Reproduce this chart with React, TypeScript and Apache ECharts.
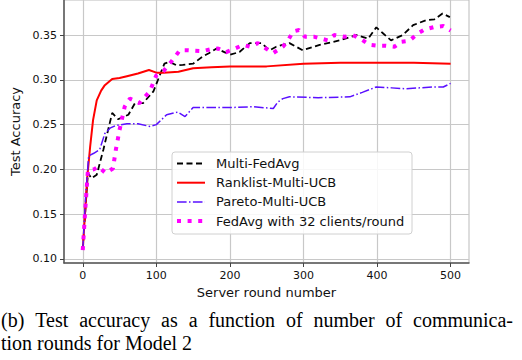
import React, { useEffect, useRef } from "react";
import * as echarts from "echarts";

// ---- data ----
const seriesNames = [
  "Multi-FedAvg",
  "Ranklist-Multi-UCB",
  "Pareto-Multi-UCB",
  "FedAvg with 32 clients/round",
];

const multiFedAvgRounds = [0, 4, 7, 12, 19, 28, 40, 48, 62, 71, 82, 96, 111, 118, 128, 136, 150, 163, 172, 182, 200, 213, 227, 236, 243, 254, 263, 281, 299, 322, 349, 372, 388, 399, 408, 419, 435, 449, 467, 478, 489, 499];
const multiFedAvgAcc = [0.11, 0.16, 0.196, 0.19, 0.194, 0.222, 0.263, 0.256, 0.261, 0.274, 0.274, 0.287, 0.318, 0.32, 0.316, 0.3167, 0.318, 0.326, 0.33, 0.335, 0.328, 0.331, 0.341, 0.341, 0.341, 0.333, 0.337, 0.341, 0.333, 0.339, 0.344, 0.35, 0.346, 0.3586, 0.352, 0.344, 0.35, 0.361, 0.3667, 0.3675, 0.374, 0.37];

const ranklistRounds = [0, 3, 6, 10, 14, 19, 25, 30, 40, 50, 60, 75, 90, 100, 110, 130, 150, 175, 200, 250, 300, 350, 400, 450, 500];
const ranklistAcc = [0.11, 0.15, 0.19, 0.225, 0.255, 0.277, 0.288, 0.294, 0.301, 0.302, 0.304, 0.307, 0.311, 0.308, 0.308, 0.309, 0.313, 0.314, 0.315, 0.315, 0.318, 0.319, 0.319, 0.319, 0.318];

const paretoRounds = [0, 4, 8, 15, 23, 30, 37, 45, 60, 75, 91, 100, 114, 129, 139, 150, 175, 200, 231, 259, 265, 272, 281, 320, 363, 380, 399, 420, 440, 476, 490, 500];
const paretoAcc = [0.11, 0.17, 0.215, 0.218, 0.222, 0.24, 0.246, 0.249, 0.251, 0.251, 0.248, 0.25, 0.261, 0.264, 0.259, 0.269, 0.269, 0.269, 0.27, 0.268, 0.275, 0.279, 0.281, 0.28, 0.281, 0.286, 0.292, 0.291, 0.29, 0.292, 0.292, 0.296];

const fedAvg32Rounds = [0, 3, 7, 15, 21, 31, 41, 45, 50, 57, 64, 77, 91, 100, 110, 120, 132, 143, 152, 163, 173, 184, 195, 207, 218, 227, 238, 249, 259, 272, 279, 286, 294, 302, 315, 333, 342, 356, 367, 379, 390, 401, 412, 424, 433, 444, 456, 465, 478, 490, 500];
const fedAvg32Acc = [0.11, 0.15, 0.199, 0.2, 0.203, 0.196, 0.201, 0.222, 0.244, 0.27, 0.279, 0.274, 0.287, 0.305, 0.31, 0.32, 0.333, 0.333, 0.3325, 0.332, 0.334, 0.335, 0.331, 0.335, 0.339, 0.337, 0.341, 0.335, 0.33, 0.337, 0.344, 0.354, 0.3556, 0.348, 0.348, 0.344, 0.35, 0.348, 0.35, 0.345, 0.339, 0.338, 0.338, 0.337, 0.3425, 0.3437, 0.352, 0.3563, 0.359, 0.36, 0.355];

const xTicks = [0, 100, 200, 300, 400, 500];
const yTicks = [0.1, 0.15, 0.2, 0.25, 0.3, 0.35];

const captionLines = [
  "(b) Test accuracy as a function of number of communica-",
  "tion rounds for Model 2",
];

// styles (not data)
const seriesColors = ["#000000", "#ff0000", "#5a10ff", "#ff00ff"];
const seriesWidths = [1.8, 2, 1.5, 4];
const seriesDashes: (number[] | null)[] = [[6, 3.5], null, [9.6, 2.4, 1.5, 2.4], [4, 6.6]];

const zip = (xs: number[], ys: number[]) => xs.map((x, i) => [x, ys[i]]);

function justifiedWords(line: string, font: string, x0: number, x1: number) {
  const words = line.split(" ");
  const ctx = document.createElement("canvas").getContext("2d")!;
  ctx.font = font;
  const widths = words.map((w) => ctx.measureText(w).width);
  const total = widths.reduce((a, b) => a + b, 0);
  const gap = (x1 - x0 - total) / (words.length - 1);
  let x = x0;
  return words.map((w, i) => {
    const item = { text: w, x };
    x += widths[i] + gap;
    return item;
  });
}

export default function App() {
  const ref = useRef<HTMLDivElement>(null);
  useEffect(() => {
    if (!ref.current) return;
    const chart = echarts.init(ref.current, undefined, { renderer: "svg" });
    const font = "DejaVu Sans";
    const capFont = "20px 'Liberation Serif'";
    const seriesData = [
      zip(multiFedAvgRounds, multiFedAvgAcc),
      zip(ranklistRounds, ranklistAcc),
      zip(paretoRounds, paretoAcc),
      zip(fedAvg32Rounds, fedAvg32Acc),
    ];

    const legendTop = 152;
    const rowGap = 19.2;
    const legendElements: any[] = [
      {
        type: "rect",
        shape: { x: 172, y: legendTop, width: 240, height: 82, r: 3 },
        style: { fill: "rgba(255,255,255,0.85)", stroke: "#d0d0d0", lineWidth: 1 },
        z: 100,
      },
    ];
    seriesNames.forEach((n, i) => {
      const cy = legendTop + 11.5 + i * rowGap;
      legendElements.push({
        type: "line",
        shape: { x1: 177, y1: cy, x2: 205, y2: cy },
        style: {
          stroke: seriesColors[i],
          lineWidth: seriesWidths[i],
          lineDash: seriesDashes[i] || undefined,
        },
        z: 101,
      });
      legendElements.push({
        type: "text",
        x: 216,
        y: cy,
        style: {
          text: n,
          font: `13px '${font}'`,
          fill: "#111",
          verticalAlign: "middle",
          textAlign: "left",
        },
        z: 101,
      });
    });

    const captionElements: any[] = [];
    justifiedWords(captionLines[0], capFont, 1, 513).forEach((w) => {
      captionElements.push({
        type: "text",
        x: w.x,
        y: 320,
        style: { text: w.text, font: capFont, fill: "#000", verticalAlign: "middle" },
      });
    });
    captionElements.push({
      type: "text",
      x: 1,
      y: 343.3,
      style: { text: captionLines[1], font: capFont, fill: "#000", verticalAlign: "middle" },
    });

    chart.setOption({
      animation: false,
      backgroundColor: "#fff",
      grid: {
        left: 64,
        top: 0,
        width: 405,
        height: 263,
        show: true,
        borderColor: "#bbb",
        borderWidth: 1,
        containLabel: false,
      },
      xAxis: {
        type: "value",
        min: -25.5,
        max: 525,
        splitNumber: 5,
        name: "Server round number",
        nameLocation: "middle",
        nameGap: 22,
        nameTextStyle: { fontFamily: font, fontSize: 13, color: "#111" },
        axisLine: { show: true, onZero: false, lineStyle: { color: "#555", width: 1.5 } },
        axisTick: { show: true, customValues: xTicks, length: 4, lineStyle: { color: "#444" } },
        axisLabel: {
          customValues: xTicks,
          fontFamily: font,
          fontSize: 11,
          color: "#111",
          margin: 7,
          formatter: (v: number) => String(v),
        },
        splitLine: { show: true, lineStyle: { color: "#c8c8c8", width: 1.2 } },
      },
      yAxis: {
        type: "value",
        min: 0.0955,
        max: 0.3891,
        splitNumber: 6,
        name: "Test Accuracy",
        nameLocation: "middle",
        nameGap: 39,
        nameTextStyle: { fontFamily: font, fontSize: 13, color: "#111" },
        axisLine: { show: true, onZero: false, lineStyle: { color: "#555", width: 1.5 } },
        axisTick: { show: true, customValues: yTicks, length: 4, lineStyle: { color: "#444" } },
        axisLabel: {
          customValues: yTicks,
          fontFamily: font,
          fontSize: 11,
          color: "#111",
          margin: 7,
          formatter: (v: number) => v.toFixed(2),
        },
        splitLine: { show: true, lineStyle: { color: "#c8c8c8", width: 1.2 } },
      },
      series: seriesNames.map((n, i) => ({
        name: n,
        type: "line",
        data: seriesData[i],
        symbol: "none",
        lineStyle: {
          color: seriesColors[i],
          width: seriesWidths[i],
          type: seriesDashes[i] || "solid",
          cap: "butt",
        },
        itemStyle: { color: seriesColors[i] },
      })),
      graphic: [...legendElements, ...captionElements],
    });
    return () => chart.dispose();
  }, []);
  return <div ref={ref} style={{ width: 522, height: 360, position: "absolute", left: 0, top: 0 }} />;
}
